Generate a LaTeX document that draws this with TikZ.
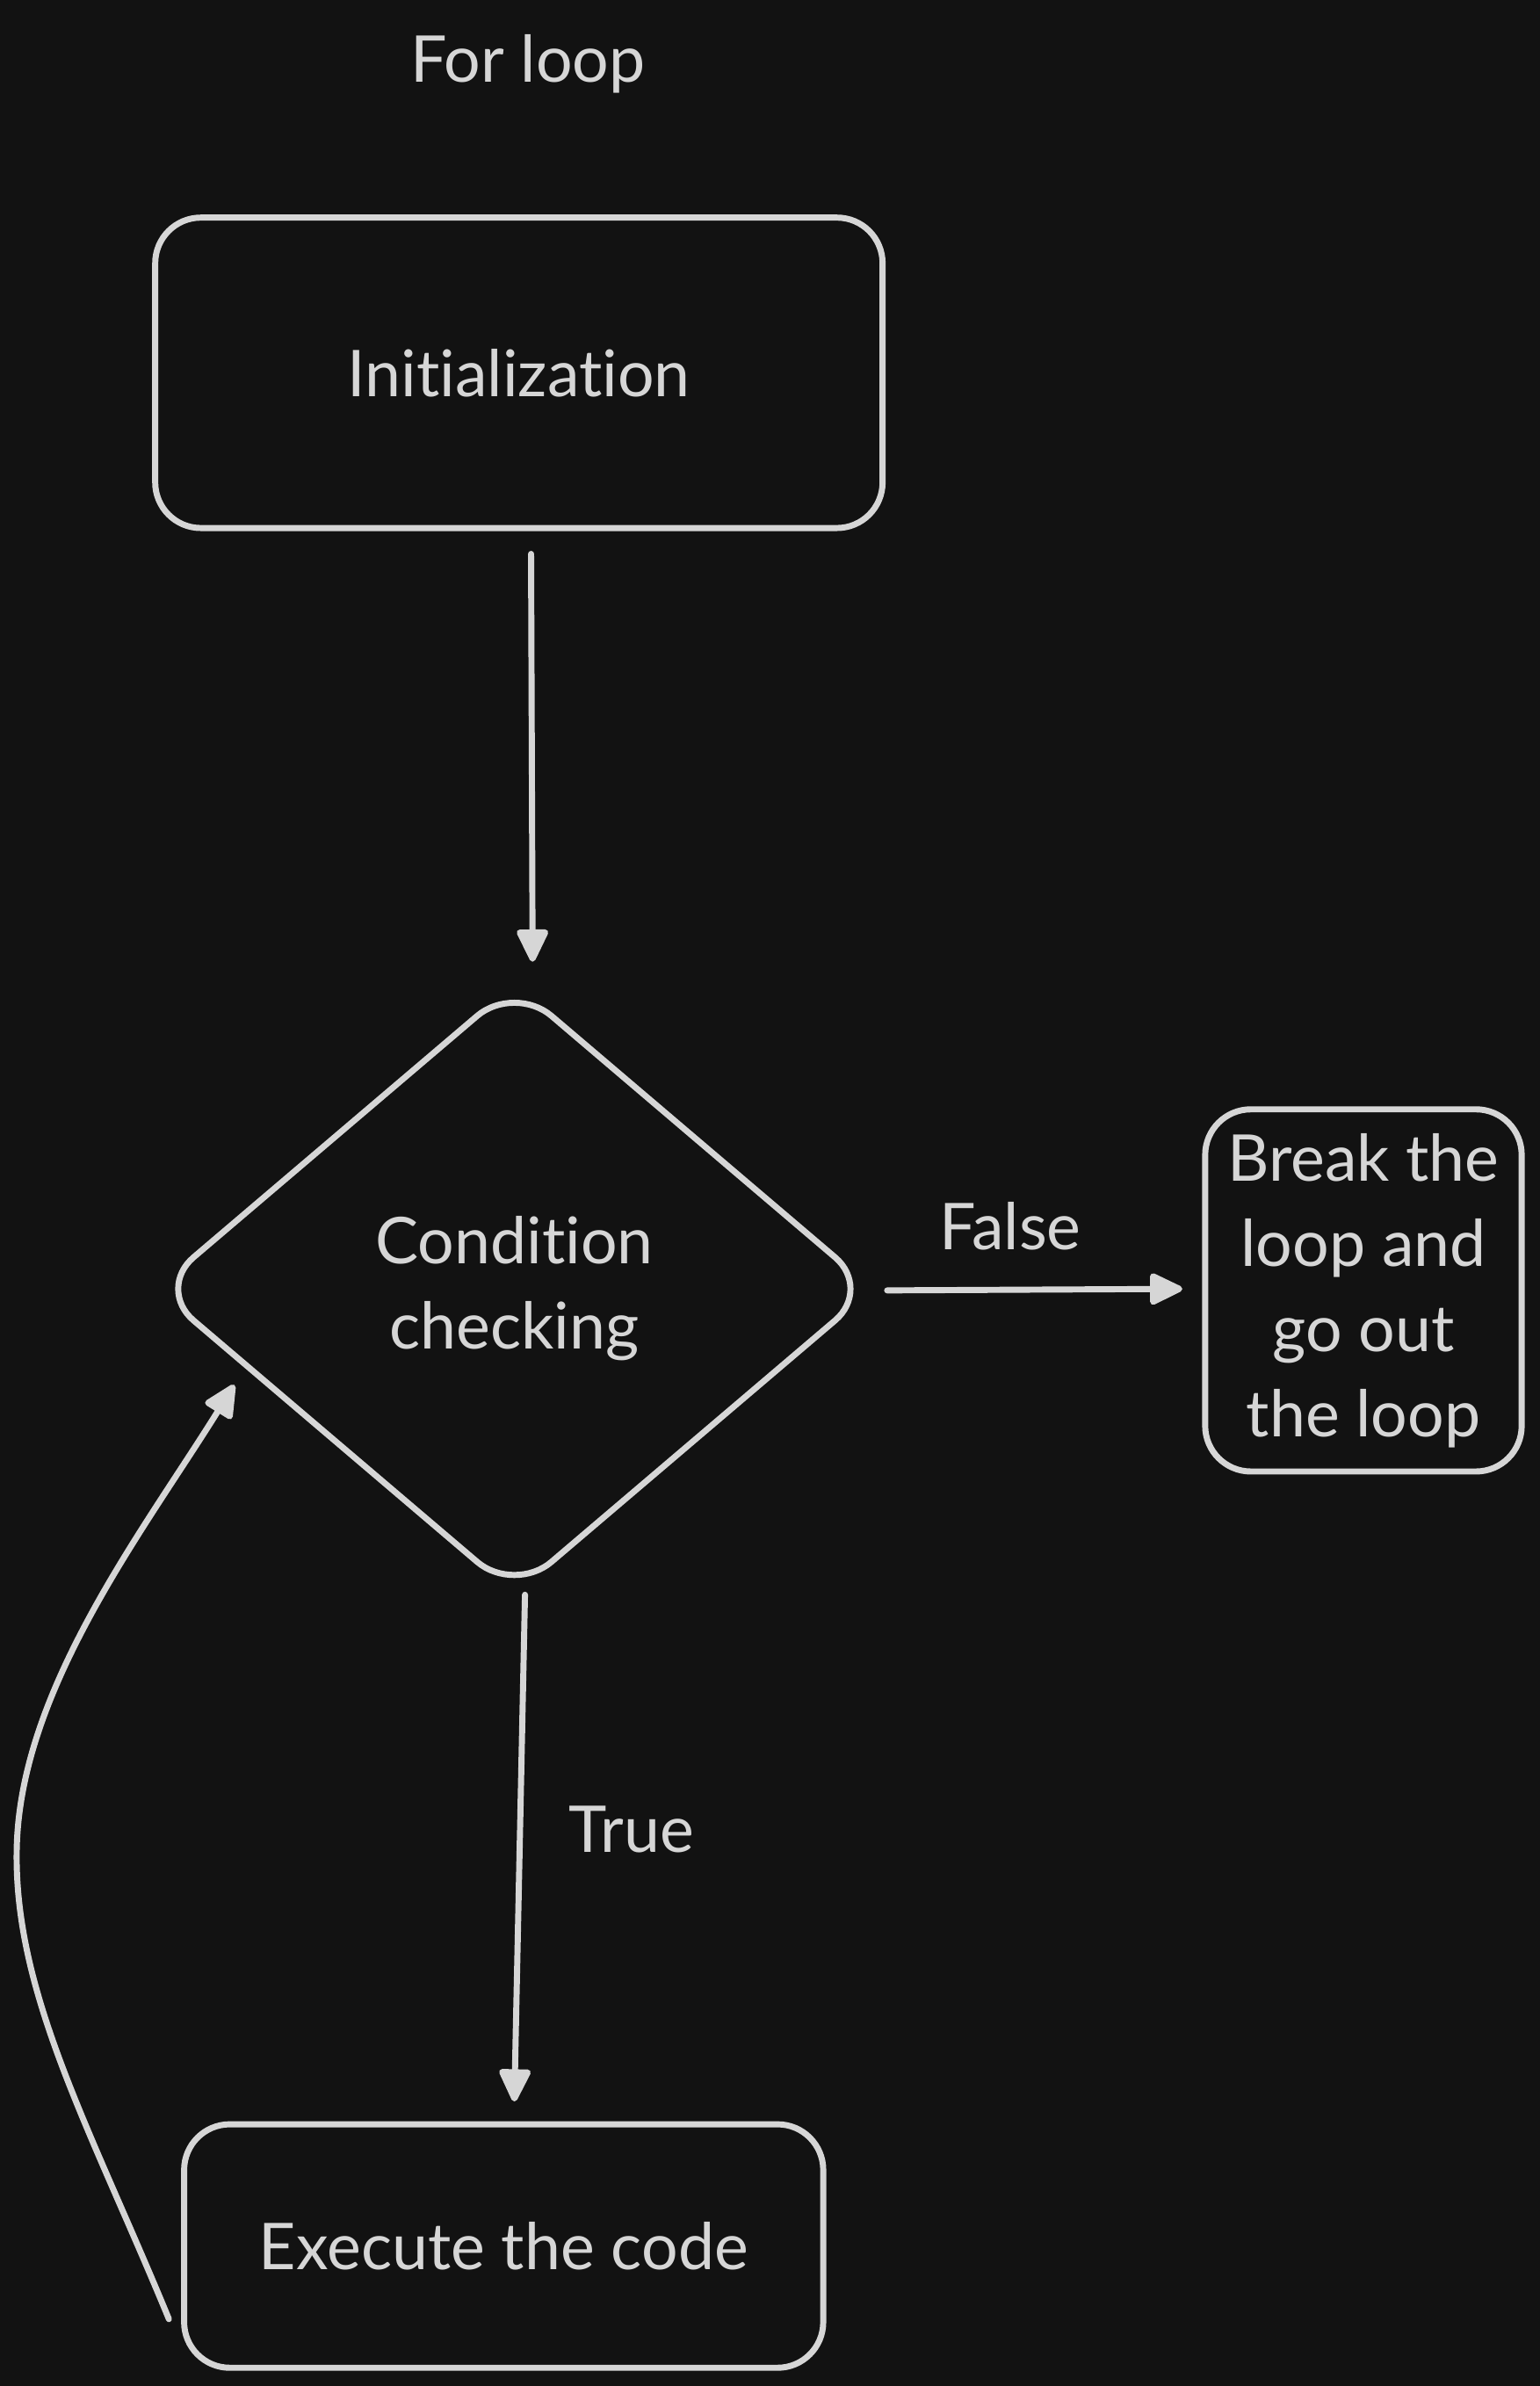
\documentclass[tikz,border=0pt]{standalone}
\usepackage{fontspec}
\setmainfont{Lato}[Ligatures=NoCommon]
\usetikzlibrary{shapes.geometric,arrows.meta,calc}
\definecolor{bg}{HTML}{121212}
\definecolor{fg}{HTML}{D6D6D6}
\begin{document}
\begin{tikzpicture}[x=0.5pt,y=-0.5pt,
  txt/.style={text=fg, font=\fontsize{21.2}{28}\selectfont, align=center, inner sep=0pt},
  box/.style={txt, draw=fg, line width=2pt, rounded corners=15pt},
  decision/.style={txt, draw=fg, line width=2pt, diamond, rounded corners=16pt},
  arr/.style={draw=fg, line width=2pt, line cap=round, -{Triangle[length=12pt,width=11pt,round]}}]
\fill[bg] (0,0) rectangle (1012,1568);
\useasboundingbox (0,0) rectangle (1012,1568);

\node[txt] (title) at (347,42) {For loop};
\node[box, minimum width=239pt, minimum height=102pt] (init) at (341,245) {Initialization};
\node[decision, minimum width=236pt, minimum height=201pt] (cond) at (338,847) {Condition\\checking};
\node[box, minimum width=104pt, minimum height=119pt] (brk) at (896,848) {Break the\\loop and\\go out\\the loop};
\node[box, minimum width=210pt, minimum height=80pt] (exec) at (331,1476) {Execute the code};

\node[txt] (lfalse) at (664,806) {False};
\node[txt] (ltrue) at (415,1202) {True};

\draw[arr] ([shift={(8,15)}]init.south) -- ([shift={(12,-12)}]cond.north);
\draw[arr] ([shift={(7,1)}]cond.east) -- ([shift={(-13,-1)}]brk.west);
\draw[arr] ([shift={(7,-2)}]cond.south) -- ([shift={(7,-13)}]exec.north);
\coordinate (loopmid) at (11,1215);
\draw[arr] ([shift={(-8,-34)}]exec.south west) .. controls (60,1400) and (9,1310) .. (loopmid)
  .. controls (13,1110) and (95,1005) .. ([shift={(54,63)}]cond.west);
\end{tikzpicture}
\end{document}
